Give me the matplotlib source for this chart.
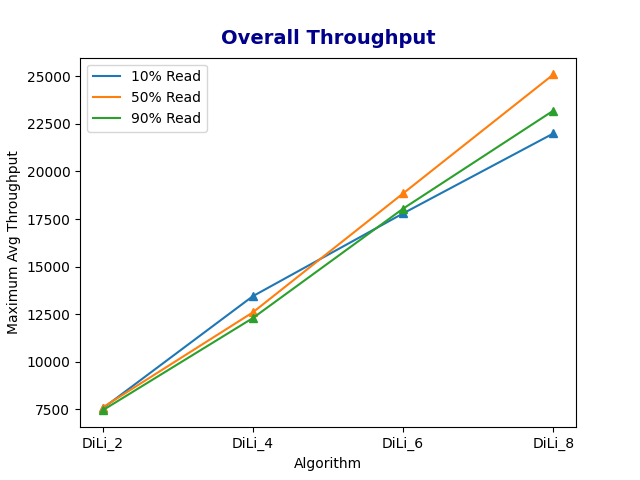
import matplotlib
matplotlib.use("Agg")
import matplotlib.pyplot as plt

# algorithms on the x axis
algorithms = ["DiLi_2", "DiLi_4", "DiLi_6", "DiLi_8"]

# maximum average throughput per read ratio
read_10 = [7550, 13450, 17800, 22000]
read_50 = [7600, 12600, 18850, 25100]
read_90 = [7450, 12300, 18050, 23200]

fig, ax = plt.subplots(figsize=(6.4, 4.8), dpi=100)

# lines carry the legend, triangles drawn on top without labels
for values, label, color in [(read_10, "10% Read", "C0"),
                             (read_50, "50% Read", "C1"),
                             (read_90, "90% Read", "C2")]:
    ax.plot(algorithms, values, color=color, label=label)
    ax.plot(algorithms, values, color=color, marker="^", linestyle="none")

ax.set_title("Overall Throughput", fontsize=14, fontweight="bold", color="darkblue", pad=10)
ax.set_xlabel("Algorithm")
ax.set_ylabel("Maximum Avg Throughput")
ax.legend(loc="upper left")

fig.savefig("out.png")
